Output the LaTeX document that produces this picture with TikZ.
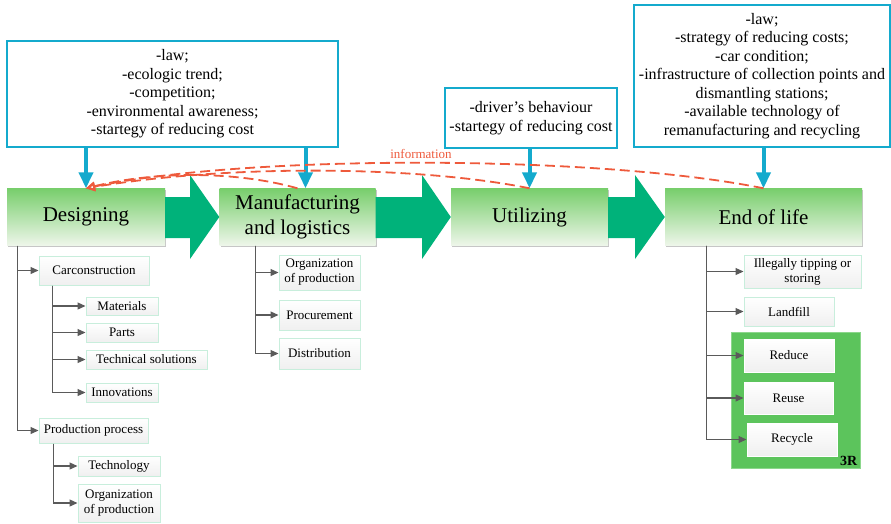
\documentclass[tikz,border=0pt]{standalone}
\usepackage{fontspec}
\setmainfont{Liberation Serif}
\usepackage{tikz}
\usetikzlibrary{arrows.meta,shadows}

\definecolor{stagetop}{RGB}{120,206,108}
\definecolor{stagebot}{RGB}{238,246,234}
\definecolor{arrowgreen}{RGB}{0,178,122}
\definecolor{cyanline}{RGB}{20,170,205}
\definecolor{infored}{RGB}{238,90,60}
\definecolor{branchgray}{RGB}{90,90,90}
\definecolor{leafline}{RGB}{200,238,220}
\definecolor{rgreen}{RGB}{92,196,92}
\definecolor{rline}{RGB}{140,215,140}

\tikzset{
  stage/.style={top color=stagetop, bottom color=stagebot, minimum width=158pt, minimum height=57pt,
    align=center, inner sep=2pt, font=\fontsize{21}{25}\selectfont,
    drop shadow={shadow xshift=1pt, shadow yshift=-1.5pt, opacity=0.45}},
  factor/.style={draw=cyanline, line width=1.5pt, fill=white, align=center, inner sep=2pt,
    font=\fontsize{16}{18.5}\selectfont},
  push/.style={draw=cyanline, line width=4pt, -{Triangle[length=16pt,width=14pt]}},
  info/.style={draw=infored, line width=1.8pt, dash pattern=on 10pt off 5pt,
    -{Triangle[open,length=9pt,width=9pt]}},
  leaf/.style={draw=leafline, line width=1pt, top color=white, bottom color=gray!12, align=center,
    inner sep=2pt, font=\fontsize{13}{15}\selectfont},
  branch/.style={draw=branchgray, line width=1.2pt, -{Triangle[length=8pt,width=7pt]}},
  bigarrow/.style={fill=arrowgreen}
}

\begin{document}
\begin{tikzpicture}[x=1pt,y=-1pt]
\useasboundingbox (0,0) rectangle (891,523);

\node[stage] (des) at (86,217) {Designing};
\node[stage, minimum width=156pt] (man) at (297.5,217) {Manufacturing\\and logistics};
\node[stage, minimum width=157pt] (uti) at (529.5,217) {Utilizing};
\node[stage, minimum width=197pt] (eol) at (763.5,217) {End of life};

\foreach \a/\h/\b in {des/190/man, man/422/uti, uti/635/eol}
  \fill[bigarrow] (\a.east |- 0,197) -- (\h,197) -- (\h,175) -- (\b.west |- 0,217)
    -- (\h,259) -- (\h,238) -- (\a.east |- 0,238) -- cycle;

\node[factor, minimum width=331pt, minimum height=106pt] (f1) at (172.5,94)
  {-law;\\-ecologic trend;\\-competition;\\-environmental awareness;\\-startegy of reducing cost};
\node[factor, minimum width=172pt, minimum height=60pt] (f2) at (531,118)
  {-driver's behaviour\\-startegy of reducing cost};
\node[factor, minimum width=256pt, minimum height=142pt] (f3) at (762,76)
  {-law;\\-strategy of reducing costs;\\-car condition;\\-infrastructure of collection points and\\dismantling stations;\\-available technology of\\remanufacturing and recycling};

\draw[push] (f1.south -| des.north) -- (des.north);
\draw[push] ([xshift=8pt]man.north |- f1.south) -- ([xshift=8pt]man.north);
\draw[push] (f2.south -| uti.north) -- (uti.north);
\draw[push] (f3.south -| eol.north) -- (eol.north);

\draw[info] (man.north) .. controls (240,172) and (160,170) .. (des.north);
\draw[info] (uti.north) .. controls (420,166) and (230,164) .. (des.north);
\draw[info] (eol.north) .. controls (600,155) and (250,154) .. (des.north);
\node[text=infored, font=\fontsize{13}{15}\selectfont] (infolbl) at (421,154) {information};

\node[leaf, minimum width=110pt, minimum height=29pt] (carc) at (94,270.5) {Carconstruction};
\node[leaf, minimum width=72pt, minimum height=18pt] (mat) at (122,306) {Materials};
\node[leaf, minimum width=72pt, minimum height=19pt] (parts) at (122,332.5) {Parts};
\node[leaf, minimum width=121pt, minimum height=19pt] (techsol) at (146.5,359.5) {Technical solutions};
\node[leaf, minimum width=72pt, minimum height=19pt] (innov) at (122,392.5) {Innovations};
\node[leaf, minimum width=109pt, minimum height=25pt] (prod) at (93.5,430.5) {Production process};
\node[leaf, minimum width=82pt, minimum height=20pt] (tech) at (119,466) {Technology};
\node[leaf, minimum width=82pt, minimum height=38pt] (dorg) at (119,503) {Organization\\of production};

\draw[branch] ([xshift=11pt]des.south west) |- (carc.west);
\draw[branch] ([xshift=11pt]des.south west) |- (prod.west);
\foreach \n in {mat, parts, techsol, innov}
  \draw[branch] ([xshift=14pt]carc.south west) |- (\n.west);
\foreach \n in {tech, dorg}
  \draw[branch] ([xshift=15pt]prod.south west) |- (\n.west);

\node[leaf, minimum width=81pt, minimum height=35pt] (morg) at (319.5,272.5) {Organization\\of production};
\node[leaf, minimum width=81pt, minimum height=30pt] (proc) at (319.5,315) {Procurement};
\node[leaf, minimum width=81pt, minimum height=31pt] (distr) at (319.5,353.5) {Distribution};
\foreach \n in {morg, proc, distr}
  \draw[branch] ([xshift=36.5pt]man.south west) |- (\n.west);

\node[leaf, minimum width=117pt, minimum height=33pt] (illeg) at (802.5,271.5) {Illegally tipping or\\storing};
\node[leaf, minimum width=90pt, minimum height=29pt] (landf) at (789,311.5) {Landfill};
\node[fill=rgreen, draw=rline, line width=1pt, minimum width=129pt, minimum height=136pt] (rbox) at (795.5,400) {};
\node[anchor=south east, inner sep=3pt, font=\fontsize{14}{16}\selectfont\bfseries] (rlbl) at (rbox.south east) {3R};
\node[leaf, draw=white, minimum width=90pt, minimum height=33pt] (reduce) at (789,355.5) {Reduce};
\node[leaf, draw=white, minimum width=89pt, minimum height=32pt] (reuse) at (788.5,398) {Reuse};
\node[leaf, draw=white, minimum width=90pt, minimum height=33pt] (recyc) at (792,439.5) {Recycle};
\foreach \n in {illeg, landf, reduce, reuse, recyc}
  \draw[branch] ([xshift=42pt]eol.south west) |- (\n.west);
\end{tikzpicture}
\end{document}
